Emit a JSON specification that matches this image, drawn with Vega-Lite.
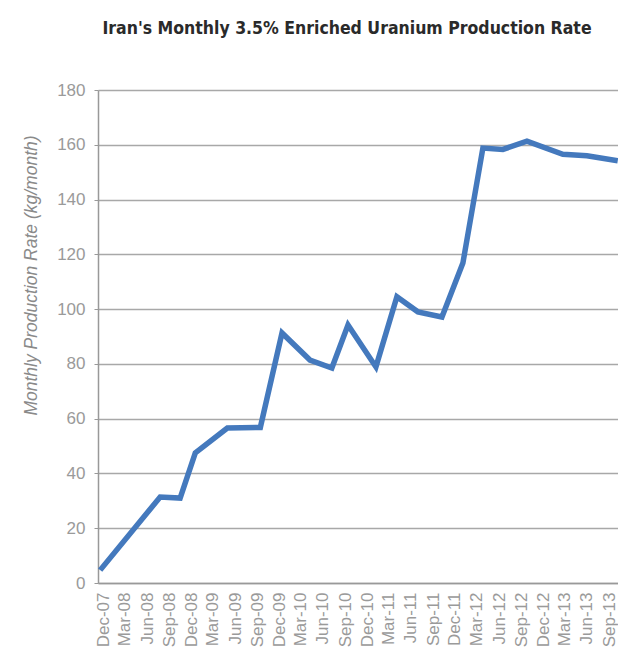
{
  "$schema": "https://vega.github.io/schema/vega-lite/v6.json",
  "width": 520,
  "height": 493,
  "autosize": {"type": "none"},
  "padding": {"left": 98, "top": 90, "right": 0, "bottom": 71},
  "background": "white",
  "title": {
    "text": "Iran's Monthly 3.5% Enriched Uranium Production Rate",
    "font": "DejaVu Sans Condensed",
    "fontSize": 17.5,
    "fontWeight": "bold",
    "color": "#2a2a2a",
    "anchor": "middle",
    "frame": "group",
    "dx": -11,
    "offset": 44
  },
  "data": {
    "values": [
      {"date": "2007-11-19", "rate": 4.7},
      {"date": "2008-07-25", "rate": 31.4},
      {"date": "2008-10-16", "rate": 31},
      {"date": "2008-12-18", "rate": 47.5},
      {"date": "2009-04-30", "rate": 56.6},
      {"date": "2009-09-14", "rate": 56.8},
      {"date": "2009-12-13", "rate": 91.3},
      {"date": "2010-04-08", "rate": 81.4},
      {"date": "2010-07-08", "rate": 78.5},
      {"date": "2010-09-13", "rate": 94.2},
      {"date": "2011-01-07", "rate": 78.9},
      {"date": "2011-04-04", "rate": 104.5},
      {"date": "2011-06-30", "rate": 99},
      {"date": "2011-10-08", "rate": 97.1},
      {"date": "2012-01-03", "rate": 116.8},
      {"date": "2012-03-26", "rate": 158.8},
      {"date": "2012-06-17", "rate": 158.3},
      {"date": "2012-09-25", "rate": 161.3},
      {"date": "2013-02-21", "rate": 156.5},
      {"date": "2013-06-01", "rate": 156},
      {"date": "2013-10-07", "rate": 154.2}
    ]
  },
  "mark": {"type": "line", "color": "#4479bd", "strokeWidth": 5.5, "strokeJoin": "miter", "clip": true},
  "encoding": {
    "x": {
      "field": "date",
      "type": "temporal",
      "scale": {"domain": ["2007-11-10", "2013-10-08"]},
      "axis": {
        "title": null,
        "values": ["2007-12-01","2008-03-01","2008-06-01","2008-09-01","2008-12-01","2009-03-01","2009-06-01","2009-09-01","2009-12-01","2010-03-01","2010-06-01","2010-09-01","2010-12-01","2011-03-01","2011-06-01","2011-09-01","2011-12-01","2012-03-01","2012-06-01","2012-09-01","2012-12-01","2013-03-01","2013-06-01","2013-09-01"],
        "format": "%b-%y",
        "labelAngle": 270,
        "labelAlign": "right",
        "labelBaseline": "middle",
        "labelFont": "Liberation Sans",
        "labelFontSize": 17,
        "labelColor": "#9a9a9a",
        "labelPadding": 9,
        "labelOverlap": false,
        "labelFlush": false,
        "domainColor": "#999999",
        "domainWidth": 1.5,
        "ticks": false,
        "grid": false
      }
    },
    "y": {
      "field": "rate",
      "type": "quantitative",
      "scale": {"domain": [0, 180], "nice": false},
      "axis": {
        "title": "Monthly Production Rate (kg/month)",
        "titleFont": "Liberation Sans",
        "titleFontSize": 17.5,
        "titleFontStyle": "italic",
        "titleFontWeight": "normal",
        "titleColor": "#8a8a8a",
        "titleX": -67,
        "titleY": 185,
        "titleBaseline": "middle",
        "values": [0, 20, 40, 60, 80, 100, 120, 140, 160, 180],
        "labelFont": "Liberation Sans",
        "labelFontSize": 17,
        "labelColor": "#9a9a9a",
        "labelPadding": 9,
        "domainColor": "#999999",
        "domainWidth": 1.5,
        "tickColor": "#999999",
        "tickSize": 4,
        "grid": true,
        "gridColor": "#a8a8a8",
        "gridWidth": 1.5
      }
    }
  },
  "config": {"view": {"stroke": null}}
}
